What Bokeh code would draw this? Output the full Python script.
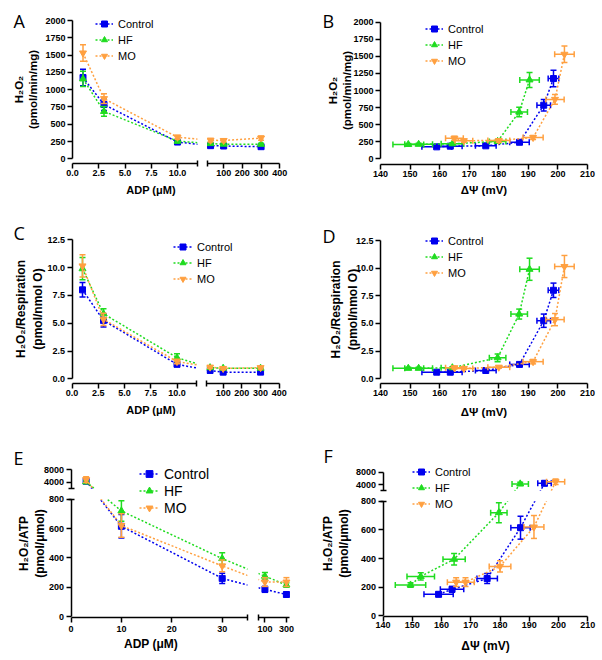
import numpy as np
from bokeh.plotting import figure
from bokeh.models import (LinearAxis, FixedTicker, Legend, LegendItem, Label,
                          CustomJSTickFormatter, Range1d)
from bokeh.layouts import column, row
from bokeh.embed import file_html
from bokeh.resources import INLINE

# ---------------- data ----------------
ADP = [1, 3, 10, 30, 100, 300]
ADP_ATP = [3, 10, 30, 100, 300]

H2O2_CTRL = [1175, 785, 242, 190, 185, 175]
H2O2_CTRL_SEM = [120, 85, 25, 20, 18, 18]
H2O2_HF = [1155, 685, 255, 220, 212, 210]
H2O2_HF_SEM = [110, 70, 22, 15, 15, 15]
H2O2_MO = [1530, 870, 312, 268, 265, 300]
H2O2_MO_SEM = [120, 70, 30, 25, 22, 30]

RESP_CTRL = [8.0, 5.25, 1.3, 0.75, 0.6, 0.6]
RESP_CTRL_SEM = [0.65, 0.6, 0.15, 0.1, 0.08, 0.08]
RESP_HF = [9.9, 5.85, 1.9, 1.0, 0.95, 0.95]
RESP_HF_SEM = [1.0, 0.45, 0.35, 0.1, 0.1, 0.1]
RESP_MO = [10.15, 5.35, 1.55, 1.05, 0.93, 1.0]
RESP_MO_SEM = [1.0, 0.55, 0.2, 0.1, 0.1, 0.12]

ATP_CTRL = [4400, 615, 260, 185, 150]
ATP_CTRL_SEM = [700, 80, 35, 20, 15]
ATP_HF = [4200, 720, 395, 275, 215]
ATP_HF_SEM = [500, 70, 40, 25, 15]
ATP_MO = [4900, 620, 345, 235, 235]
ATP_MO_SEM = [900, 80, 40, 30, 30]

PSI_CTRL = [198.5, 195.2, 187.0, 175.6, 163.6, 159.0]
PSI_CTRL_SEM = [1.8, 2.3, 3.3, 3.5, 4.0, 5.0]
PSI_HF = [190.4, 186.9, 179.6, 164.3, 152.9, 149.4]
PSI_HF_SEM = [3.3, 2.8, 2.8, 3.8, 4.7, 5.2]
PSI_MO = [202.2, 199.0, 191.6, 180.0, 168.2, 165.0]
PSI_MO_SEM = [3.3, 3.1, 3.4, 3.7, 3.0, 3.0]

GROUPS = ["Control", "HF", "MO"]

X_ADP_TICKS = [0, 2.5, 5, 7.5, 10, 100, 200, 300, 400]
X_ADP_LABELS = ["0.0", "2.5", "5.0", "7.5", "10.0", "100", "200", "300", "400"]
X_ADP2_TICKS = [0, 10, 20, 30, 100, 300]
X_ADP2_LABELS = ["0", "10", "20", "30", "100", "300"]
X_PSI_TICKS = [140, 150, 160, 170, 180, 190, 200, 210]
X_PSI_LABELS = [str(v) for v in X_PSI_TICKS]
Y_H2O2_TICKS = [0, 250, 500, 750, 1000, 1250, 1500, 1750, 2000]
Y_H2O2_LABELS = [str(v) for v in Y_H2O2_TICKS]
Y_RESP_TICKS = [0, 2.5, 5, 7.5, 10, 12.5]
Y_RESP_LABELS = ["0.0", "2.5", "5.0", "7.5", "10.0", "12.5"]
Y_ATP_TICKS = [0, 200, 400, 600, 800, 4000, 8000]
Y_ATP_LABELS = [str(v) for v in Y_ATP_TICKS]

# ---------------- style ----------------
FONT = "Liberation Sans"
COL = {"Control": "#0000ee", "HF": "#1fdc1f", "MO": "#ffa040"}
MARK = {"Control": "square", "HF": "triangle", "MO": "inverted_triangle"}
MSIZE = {"Control": 6, "HF": 7, "MO": 7}
W = 301


def seg_map(vals, segs):
    out = []
    for v in vals:
        for k, ((d0, d1), (p0, p1)) in enumerate(segs):
            if v <= d1 or k == len(segs) - 1:
                out.append(float(p0 + (v - d0) * (p1 - p0) / (d1 - d0)))
                break
    return out


def at_px(px, ref):
    (d1, p1), (d2, p2) = ref
    return d1 + (px - p1) * (d2 - d1) / (p2 - p1)


def style_axis(ax, label_size, label_standoff, tick_standoff):
    ax.axis_line_width = 1.5
    ax.axis_line_color = "black"
    ax.major_tick_line_width = 1.5
    ax.major_tick_line_color = "black"
    ax.major_tick_out = 5
    ax.major_tick_in = 0
    ax.minor_tick_line_width = 1.5
    ax.minor_tick_line_color = "black"
    ax.minor_tick_in = 3
    ax.minor_tick_out = 3
    ax.major_label_text_font = FONT
    ax.major_label_text_font_style = "bold"
    ax.major_label_text_font_size = "9px"
    ax.major_label_text_color = "black"
    ax.major_label_standoff = tick_standoff
    ax.axis_label_text_font = FONT
    ax.axis_label_text_font_style = "bold"
    ax.axis_label_text_font_size = label_size
    ax.axis_label_text_color = "black"
    ax.axis_label_standoff = label_standoff


def add_axis(p, dim, loc, spec, segs):
    pos = seg_map(spec["ticks"], segs)
    minor = []
    for k in range(len(segs) - 1):
        minor += [float(segs[k][1][1]), float(segs[k + 1][1][0])]
    fmt = CustomJSTickFormatter(args=dict(pos=pos, lab=spec["labels"]), code="""
        for (let i = 0; i < pos.length; i++) {
            if (Math.abs(tick - pos[i]) < 1e-6) { return lab[i]; }
        }
        return "";
    """)
    ax = LinearAxis(ticker=FixedTicker(ticks=pos, minor_ticks=minor), formatter=fmt,
                    axis_label=spec["label"], fixed_location=loc)
    style_axis(ax, spec["size"], spec["ls"], spec["ts"])
    if len(segs) == 1:
        ax.bounds = (float(segs[0][1][0]), float(segs[0][1][1]))
    else:
        ax.axis_line_color = None
    side = "below" if dim == "x" else "left"
    p.add_layout(ax, side)
    if len(segs) > 1:
        for (_, (p0, p1)) in segs:
            la = LinearAxis(ticker=FixedTicker(ticks=[]), bounds=(float(p0), float(p1)),
                            axis_line_width=1.5, axis_line_color="black",
                            major_tick_out=0, major_tick_in=0, minor_tick_out=0, minor_tick_in=0,
                            major_tick_line_color=None, minor_tick_line_color=None,
                            major_label_text_font_size="0px", major_label_standoff=0,
                            axis_label_standoff=0, fixed_location=loc)
            p.add_layout(la, side)


def build(cfg):
    H = cfg["h"]
    xref, yref = cfg["xref"], cfg["yref"]
    xr = (at_px(0, xref), at_px(W, xref))
    yr = (at_px(H, yref), at_px(0, yref))
    p = figure(width=W, height=H, x_range=Range1d(*xr), y_range=Range1d(*yr),
               x_axis_type=None, y_axis_type=None, output_backend="svg", toolbar_location=None,
               min_border_left=0, min_border_right=0, min_border_top=0, min_border_bottom=0)
    p.title.visible = False
    p.outline_line_color = None
    p.background_fill_color = "white"
    p.border_fill_color = "white"
    xloc = at_px(cfg["xaxis_py"], yref)   # y value where the x axis sits
    yloc = at_px(cfg["yaxis_px"], xref)   # x value where the y axis sits
    xsegs, ysegs = cfg["xsegs"], cfg["ysegs"]
    items = []
    for g in GROUPS:
        s = cfg["series"][g]
        c = COL[g]
        X = seg_map(s["x"], xsegs)
        Y = seg_map(s["y"], ysegs)
        ln = p.line(X, Y, line_color=c, line_width=1.5, line_dash="2 2")
        lo = seg_map([v - e for v, e in zip(s["y"], s["ye"])], ysegs)
        hi = seg_map([v + e for v, e in zip(s["y"], s["ye"])], ysegs)
        p.segment(X, lo, X, hi, line_color=c, line_width=1.5)
        p.scatter(X + X, lo + hi, marker="dash", size=6, line_color=c, line_width=1.5)
        if s.get("xe") is not None:
            lo = seg_map([v - e for v, e in zip(s["x"], s["xe"])], xsegs)
            hi = seg_map([v + e for v, e in zip(s["x"], s["xe"])], xsegs)
            p.segment(lo, Y, hi, Y, line_color=c, line_width=1.5)
            p.scatter(lo + hi, Y + Y, marker="dash", angle=np.pi / 2, size=6, line_color=c, line_width=1.5)
        mk = p.scatter(X, Y, marker=MARK[g], size=MSIZE[g], fill_color=c, line_color=c)
        items.append(LegendItem(label=g, renderers=[ln, mk]))
    # white masks hide the connecting lines inside the axis breaks
    for k in range(len(xsegs) - 1):
        p.quad(left=[xsegs[k][1][1]], right=[xsegs[k + 1][1][0]], bottom=[xloc], top=[yr[1]],
               fill_color="white", line_color=None)
    for k in range(len(ysegs) - 1):
        p.quad(left=[yloc], right=[xr[1]], bottom=[ysegs[k][1][1]], top=[ysegs[k + 1][1][0]],
               fill_color="white", line_color=None)
    add_axis(p, "x", xloc, cfg["xaxis"], xsegs)
    add_axis(p, "y", yloc, cfg["yaxis"], ysegs)
    lg = cfg["legend"]
    leg = Legend(items=items, location=lg["loc"], glyph_width=lg["gw"], glyph_height=lg["rh"],
                 label_height=lg["rh"], label_standoff=5, spacing=lg["sp"], padding=0, margin=0,
                 border_line_color=None, background_fill_alpha=0,
                 label_text_font=FONT, label_text_font_size=lg["fs"], label_text_color="black")
    p.add_layout(leg)
    lx, ly = cfg["letter_pos"]
    p.add_layout(Label(x=lx, y=ly, x_units="screen", y_units="screen", text=cfg["letter"],
                       text_font="Open Sans", text_font_size="18px", text_color="black",
                       text_baseline="alphabetic"))
    return p


def series(xs, xes, ys, yes):
    return {g: {"x": xs[i], "xe": xes[i] if xes else None, "y": ys[i], "ye": yes[i]}
            for i, g in enumerate(GROUPS)}


ID_PSI = [((140, 210), (140, 210))]
SEG_ADP = [((0, 11.9), (0, 11.9)), ((11, 400), (12.81, 19.74))]
SEG_ADP2 = [((0, 35), (0, 35)), ((40, 330), (37.2, 43.38))]
SEG_ATP_E = [((0, 800), (0, 800)), ((2000, 8000), (871, 1000.7))]
SEG_ATP_F = [((0, 800), (0, 800)), ((2000, 8000), (873.6, 1002.4))]

H2O2_Y = [H2O2_CTRL, H2O2_HF, H2O2_MO]
H2O2_E = [H2O2_CTRL_SEM, H2O2_HF_SEM, H2O2_MO_SEM]
RESP_Y = [RESP_CTRL, RESP_HF, RESP_MO]
RESP_E = [RESP_CTRL_SEM, RESP_HF_SEM, RESP_MO_SEM]
ATP_Y = [ATP_CTRL, ATP_HF, ATP_MO]
ATP_E = [ATP_CTRL_SEM, ATP_HF_SEM, ATP_MO_SEM]
PSI_X = [PSI_CTRL, PSI_HF, PSI_MO]
PSI_E = [PSI_CTRL_SEM, PSI_HF_SEM, PSI_MO_SEM]

X_ADP_AX = dict(ticks=X_ADP_TICKS, labels=X_ADP_LABELS, label="ADP (\u03bcM)", size="11px", ls=5, ts=1)
X_PSI_AX = dict(ticks=X_PSI_TICKS, labels=X_PSI_LABELS, label="\u0394\u03a8 (mV)", size="11.5px", ls=4, ts=1)
X_PSI_AX_D = dict(ticks=X_PSI_TICKS, labels=X_PSI_LABELS, label="\u0394\u03a8 (mV)", size="11.5px", ls=7, ts=1)

cfgs = [
    dict(letter="A", h=210, xref=((0, 72), (10, 177)), yref=((0, 158.3), (2000, 20)),
         xaxis_py=163, yaxis_px=72,
         xsegs=SEG_ADP, ysegs=[((0, 2000), (0, 2000))],
         series=series([ADP] * 3, None, H2O2_Y, H2O2_E),
         xaxis=X_ADP_AX,
         yaxis=dict(ticks=Y_H2O2_TICKS, labels=Y_H2O2_LABELS, label="H\u2082O\u2082\n(pmol/min/mg)",
                    size="11.5px", ls=3, ts=2),
         legend=dict(loc=(95, 147), gw=18, rh=15, sp=1, fs="11px"), letter_pos=(13, 190)),
    dict(letter="B", h=210, xref=((140, 79), (210, 286)), yref=((0, 158.3), (2000, 21.7)),
         xaxis_py=164, yaxis_px=79,
         xsegs=ID_PSI, ysegs=[((0, 2000), (0, 2000))],
         series=series(PSI_X, PSI_E, H2O2_Y, H2O2_E),
         xaxis=X_PSI_AX,
         yaxis=dict(ticks=Y_H2O2_TICKS, labels=Y_H2O2_LABELS, label="H\u2082O\u2082\n(pmol/min/mg)",
                    size="11.5px", ls=-3, ts=2),
         legend=dict(loc=(124, 142), gw=18, rh=15, sp=1, fs="11px"), letter_pos=(21, 190)),
    dict(letter="C", h=216, xref=((0, 71.5), (10, 176.5)), yref=((0, 168.3), (12.5, 29.3)),
         xaxis_py=173.3, yaxis_px=71.5,
         xsegs=SEG_ADP, ysegs=[((0, 12.5), (0, 12.5))],
         series=series([ADP] * 3, None, RESP_Y, RESP_E),
         xaxis=X_ADP_AX,
         yaxis=dict(ticks=Y_RESP_TICKS, labels=Y_RESP_LABELS, label="H\u2082O\u2082/Respiration\n(pmol/nmol O)",
                    size="12px", ls=0, ts=2),
         legend=dict(loc=(173, 140), gw=19, rh=15, sp=1, fs="11px"), letter_pos=(13, 194)),
    dict(letter="D", h=216, xref=((140, 79), (210, 286)), yref=((0, 168.3), (12.5, 30)),
         xaxis_py=173.3, yaxis_px=79,
         xsegs=ID_PSI, ysegs=[((0, 12.5), (0, 12.5))],
         series=series(PSI_X, PSI_E, RESP_Y, RESP_E),
         xaxis=X_PSI_AX_D,
         yaxis=dict(ticks=Y_RESP_TICKS, labels=Y_RESP_LABELS, label="H\u2082O\u2082/Respiration\n(pmol/nmol O)",
                    size="12px", ls=-7, ts=2),
         legend=dict(loc=(124, 146), gw=18, rh=15, sp=1, fs="11px"), letter_pos=(21, 191)),
    dict(letter="E", h=234, xref=((0, 70.5), (30, 221.7)), yref=((0, 190), (800, 72.7)),
         xaxis_py=190.5, yaxis_px=70.5,
         xsegs=SEG_ADP2, ysegs=SEG_ATP_E,
         series=series([ADP_ATP] * 3, None, ATP_Y, ATP_E),
         xaxis=dict(ticks=X_ADP2_TICKS, labels=X_ADP2_LABELS, label="ADP (\u03bcM)", size="12px", ls=1, ts=4),
         yaxis=dict(ticks=Y_ATP_TICKS, labels=Y_ATP_LABELS, label="H\u2082O\u2082/ATP\n(pmol/\u03bcmol)",
                    size="12px", ls=-6, ts=2),
         legend=dict(loc=(139, 144), gw=20, rh=17, sp=0, fs="14px"), letter_pos=(13, 203)),
    dict(letter="F", h=234, xref=((140, 81.5), (210, 286.3)), yref=((0, 189.3), (800, 74.7)),
         xaxis_py=189.5, yaxis_px=81.5,
         xsegs=ID_PSI, ysegs=SEG_ATP_F,
         series=series([x[1:] for x in PSI_X], [e[1:] for e in PSI_E], ATP_Y, ATP_E),
         xaxis=dict(ticks=X_PSI_TICKS, labels=X_PSI_LABELS, label="\u0394\u03a8 (mV)", size="12px", ls=7, ts=1),
         yaxis=dict(ticks=Y_ATP_TICKS, labels=Y_ATP_LABELS, label="H\u2082O\u2082/ATP\n(pmol/\u03bcmol)",
                    size="12px", ls=2, ts=2),
         legend=dict(loc=(111, 149), gw=18, rh=15, sp=1, fs="11px"), letter_pos=(22, 205)),
]

figs = [build(c) for c in cfgs]
layout = column(row(figs[0], figs[1]), row(figs[2], figs[3]), row(figs[4], figs[5]))
open("out.html", "w").write(file_html(layout, INLINE))
